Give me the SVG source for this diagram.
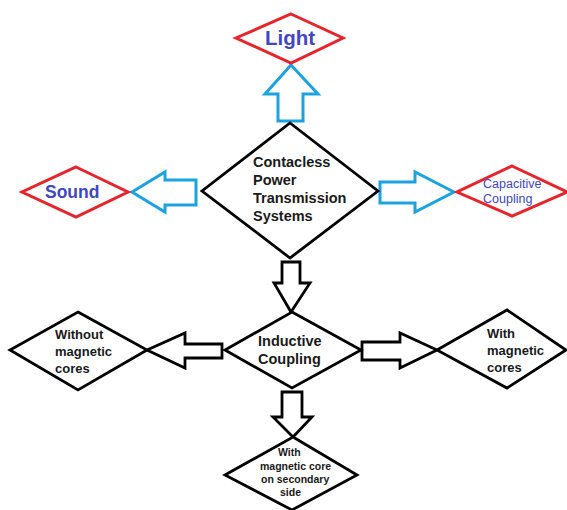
<svg xmlns="http://www.w3.org/2000/svg" width="567" height="510" viewBox="0 0 567 510">
<style>
.bg{fill:#fff}
.red{fill:#fff;stroke:#e8232b;stroke-width:3;stroke-linejoin:miter}
.blk{fill:#fff;stroke:#000;stroke-width:2.8;stroke-linejoin:miter}
.blue{fill:#fff;stroke:#1aa3e0;stroke-width:3;stroke-linejoin:miter}
.arr{fill:#fff;stroke:#000;stroke-width:2.8;stroke-linejoin:miter}
.t{font-family:"Liberation Sans",Arial,sans-serif;font-weight:bold;fill:#1a1a1a}
.tb{font-family:"Liberation Sans",Arial,sans-serif;font-weight:bold;fill:#4146c4}
.tn{font-family:"Liberation Sans",Arial,sans-serif;fill:#4146c4}
</style>
<rect class="bg" width="567" height="510"/>
<g id="connectors">
<polygon class="blue" points="291,65 318,94 303,94 303,121 278,121 278,94 265,94"/>
<polygon class="blue" points="132,192 165,172 165,180 196,180 196,205 165,205 165,212"/>
<polygon class="blue" points="454,192 415,172 415,182 380,182 380,203 415,203 415,212"/>
<polygon class="arr" points="291,312 310,283 300,283 300,262 282,262 282,283 274,283"/>
<polygon class="arr" points="147,350 185,333 185,344 222,344 222,358 185,358 185,368"/>
<polygon class="arr" points="437,350 400,333 400,342 362,342 362,360 400,360 400,368"/>
<polygon class="arr" points="293,437 312,417 302,417 302,392 282,392 282,417 273,417"/>
</g>
<g id="light">
<polygon class="red" points="291,14 343,38 291,63 236,38"/>
<text class="tb" x="265" y="45" font-size="20.5">Light</text>
</g>
<g id="sound">
<polygon class="red" points="76,167 128,192 76,217 22,192"/>
<text class="tb" x="45" y="198" font-size="17.5">Sound</text>
</g>
<g id="capacitive">
<polygon class="red" points="512,166 567,192 512,216 457,192"/>
<text class="tn" x="483" y="188" font-size="12.5">Capacitive</text>
<text class="tn" x="483" y="203" font-size="12.5">Coupling</text>
</g>
<g id="main">
<polygon class="blk" points="290,123 378,191 290,258 202,191"/>
<text class="t" x="253" y="167" font-size="14.5">Contacless</text>
<text class="t" x="253" y="185" font-size="14.5">Power</text>
<text class="t" x="253" y="203" font-size="14.5">Transmission</text>
<text class="t" x="253" y="221" font-size="14.5">Systems</text>
</g>
<g id="inductive">
<polygon class="blk" points="292,312 361,350 292,388 225,350"/>
<text class="t" x="258" y="346" font-size="14.5">Inductive</text>
<text class="t" x="258" y="364" font-size="14.5">Coupling</text>
</g>
<g id="without">
<polygon class="blk" points="78,312 147,350 78,390 10,350"/>
<text class="t" x="55" y="339" font-size="13">Without</text>
<text class="t" x="55" y="356" font-size="13">magnetic</text>
<text class="t" x="55" y="373" font-size="13">cores</text>
</g>
<g id="with">
<polygon class="blk" points="507,310 566,350 507,388 437,350"/>
<text class="t" x="487" y="338" font-size="13">With</text>
<text class="t" x="487" y="355" font-size="13">magnetic</text>
<text class="t" x="487" y="372" font-size="13">cores</text>
</g>
<g id="secondary">
<polygon class="blk" points="293,437 357,475 292,510 225,475"/>
<text class="t" x="278" y="456" font-size="10.5">With</text>
<text class="t" x="260" y="470" font-size="10.5">magnetic core</text>
<text class="t" x="261" y="483" font-size="10.5">on secondary</text>
<text class="t" x="280" y="496" font-size="10.5">side</text>
</g>
</svg>
